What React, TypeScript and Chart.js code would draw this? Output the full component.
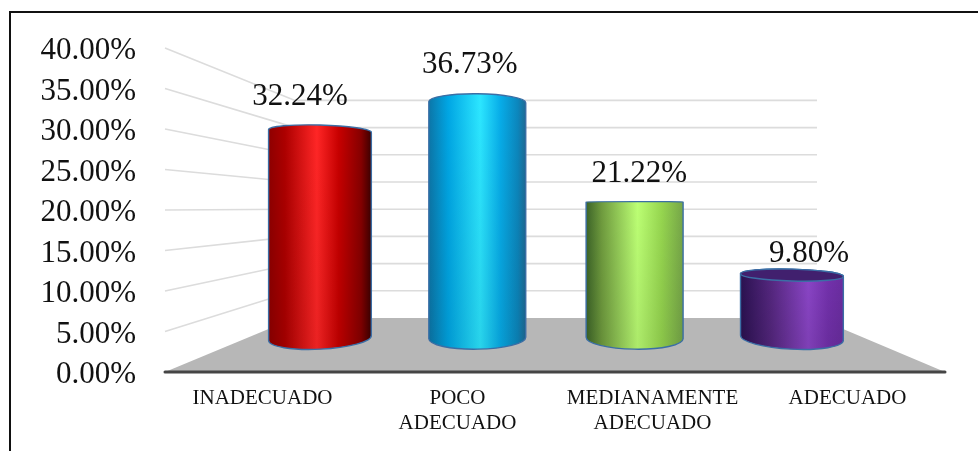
import React, { useEffect, useRef } from "react";
import { Chart, registerables, BarController, BarElement } from "chart.js";

const categories = [
  "INADECUADO",
  ["POCO", "ADECUADO"],
  ["MEDIANAMENTE", "ADECUADO"],
  "ADECUADO",
];
const percentages = [32.24, 36.73, 21.22, 9.8];
const tickValues = [0, 5, 10, 15, 20, 25, 30, 35, 40];

// Horizontal colour bands of each cylinder, as [offset, colour].
const bodyBands: [number, string][][] = [
  [[0, "#8e0000"], [0.16, "#ad0000"], [0.47, "#ff2626"], [0.68, "#c80000"], [0.9, "#860000"], [1, "#3c0000"]],
  [[0, "#0c76a8"], [0.2, "#00a6e4"], [0.53, "#2ce6ff"], [0.74, "#07ace8"], [0.92, "#0c86bc"], [1, "#1f6a94"]],
  [[0, "#3c6428"], [0.16, "#6f9b3e"], [0.53, "#bcff74"], [0.78, "#96d64f"], [1, "#76a648"]],
  [[0, "#2a1150"], [0.3, "#55277f"], [0.66, "#8a45c6"], [0.85, "#7331ac"], [1, "#6a2da0"]],
];
const capColours = ["#8a0000", "#0a88c0", "#6f9b3e", "#41206e"];

const SERIF = '"Liberation Serif", "Times New Roman", serif';
const OUTLINE = "#3b6ea5";
const GRID = "#dcdcdc";
const FLOOR = "#b7b7b7";
const AXIS_LINE = "#454545";

// Eye height and centre of the fake perspective used for the cylinder ends.
const HORIZON_VALUE = 21.0;
const EYE_X = 555;
const ELLIPSE_SQUASH = 0.083;
const ELLIPSE_TILT = 1.57e-6;
const WIDEN_PER_PX = 0.0004;

// Floor inset between the front edge of the plot and the back wall.
const BACK_INSET_LEFT = 130;
const BACK_INSET_RIGHT = 128;

class CylinderElement extends BarElement {
  static id = "cylinder";
  draw(ctx: CanvasRenderingContext2D) {
    const self = this as any;
    const { x, y, base, width } = self.getProps(["x", "y", "base", "width"]);
    const index: number = self.bandIndex;
    const horizon = self.barScale.getPixelForValue(HORIZON_VALUE);
    const offset = x - EYE_X;
    const half = (width / 2) * (1 + Math.abs(offset) * WIDEN_PER_PX);

    const ryAt = (py: number) => Math.abs(py - horizon) * ELLIPSE_SQUASH;
    const tiltAt = (py: number) => offset * (py - horizon) * ELLIPSE_TILT;

    const body = ctx.createLinearGradient(x - half, 0, x + half, 0);
    bodyBands[index].forEach(([at, colour]) => body.addColorStop(at, colour));

    const outline = () => {
      ctx.beginPath();
      ctx.ellipse(x, y, half, ryAt(y), tiltAt(y), Math.PI, Math.PI * 2);
      ctx.ellipse(x, base, half, ryAt(base), tiltAt(base), 0, Math.PI);
      ctx.closePath();
    };

    ctx.save();
    outline();
    ctx.fillStyle = body;
    ctx.fill();

    const shade = ctx.createLinearGradient(0, y, 0, base);
    shade.addColorStop(0, "rgba(0,0,0,0)");
    shade.addColorStop(1, "rgba(0,0,0,0.08)");
    ctx.fillStyle = shade;
    ctx.fill();

    ctx.strokeStyle = OUTLINE;
    ctx.lineWidth = 1.4;
    ctx.stroke();

    // Only cylinders shorter than eye height show their top face.
    if (y > horizon + 1) {
      ctx.beginPath();
      ctx.ellipse(x, y, half, ryAt(y), tiltAt(y), 0, Math.PI * 2);
      ctx.fillStyle = capColours[index];
      ctx.fill();
      ctx.stroke();
    }
    ctx.restore();
  }
}

class CylinderController extends BarController {
  static id = "cylinder";
  static defaults = { dataElementType: "cylinder" };
  static overrides = (BarController as any).overrides;
  draw() {
    const self = this as any;
    self._cachedMeta.data.forEach((element: any, i: number) => {
      element.bandIndex = i;
      element.barScale = self.chart.scales.yBar;
    });
    super.draw();
  }
}

// Floor, receding grid lines and front axis line, painted under the cylinders.
const stagePlugin = {
  id: "stage",
  beforeDatasetsDraw(chart: any) {
    const { ctx, chartArea, scales } = chart;
    const { yFront, yBack } = scales;
    const backLeft = chartArea.left + BACK_INSET_LEFT;
    const backRight = chartArea.right - BACK_INSET_RIGHT;
    ctx.save();

    ctx.strokeStyle = GRID;
    ctx.lineWidth = 1.6;
    tickValues.forEach((value) => {
      if (value === 0) return;
      const backY = yBack.getPixelForValue(value);
      ctx.beginPath();
      ctx.moveTo(chartArea.left, yFront.getPixelForValue(value));
      ctx.lineTo(backLeft, backY);
      ctx.lineTo(backRight, backY);
      ctx.stroke();
    });

    const frontY = yFront.getPixelForValue(0);
    const floorY = yBack.getPixelForValue(0);
    ctx.fillStyle = FLOOR;
    ctx.beginPath();
    ctx.moveTo(chartArea.left, frontY);
    ctx.lineTo(backLeft, floorY);
    ctx.lineTo(backRight, floorY);
    ctx.lineTo(chartArea.right, frontY);
    ctx.closePath();
    ctx.fill();

    ctx.strokeStyle = AXIS_LINE;
    ctx.lineWidth = 3;
    ctx.lineCap = "round";
    ctx.beginPath();
    ctx.moveTo(chartArea.left, frontY);
    ctx.lineTo(chartArea.right, frontY);
    ctx.stroke();
    ctx.restore();
  },
  afterDatasetsDraw(chart: any) {
    const { ctx, scales } = chart;
    ctx.save();
    ctx.font = `31px ${SERIF}`;
    ctx.fillStyle = "#111111";
    ctx.textAlign = "center";
    ctx.textBaseline = "alphabetic";
    percentages.forEach((value, i) => {
      ctx.fillText(
        `${value.toFixed(2)}%`,
        scales.xLabel.getPixelForValue(i),
        scales.yLabel.getPixelForValue(value)
      );
    });
    ctx.restore();
  },
};

Chart.register(...registerables, CylinderController, CylinderElement);

const hiddenLinear = (min: number, max: number) => ({
  type: "linear",
  display: false,
  min,
  max,
  offset: false,
  grid: { display: false },
});

export default function App() {
  const canvasRef = useRef<HTMLCanvasElement>(null);

  useEffect(() => {
    const chart = new Chart(canvasRef.current!, {
      type: "cylinder" as any,
      data: {
        datasets: [
          {
            data: percentages.map((y, x) => ({ x, y })),
            xAxisID: "xBar",
            yAxisID: "yBar",
            barThickness: 94,
          } as any,
        ],
      },
      plugins: [stagePlugin],
      options: {
        animation: false,
        responsive: false,
        events: [],
        layout: { padding: { top: 48, right: 33, left: 0, bottom: 0 } },
        plugins: { legend: { display: false }, tooltip: { enabled: false } },
        scales: {
          x: {
            type: "category",
            labels: categories as any,
            offset: true,
            grid: { display: false },
            border: { display: false },
            ticks: {
              padding: 6,
              maxRotation: 0,
              autoSkip: false,
              color: "#111111",
              font: { family: SERIF, size: 21, lineHeight: 1.19 },
            },
            afterFit: (scale: any) => {
              scale.height = 79;
            },
          },
          // Labelled axis: its range sits slightly above the plane's so the
          // text centres just below each grid line's starting point.
          y: {
            type: "linear",
            position: "left",
            min: 0.37,
            max: 40.37,
            grid: { display: false },
            border: { display: false },
            afterBuildTicks: (scale: any) => {
              scale.ticks = tickValues.map((value) => ({ value }));
            },
            ticks: {
              padding: 21,
              color: "#111111",
              font: { family: SERIF, size: 31 },
              callback: (v: any) => `${Number(v).toFixed(2)}%`,
            },
            afterFit: (scale: any) => {
              scale.width = 165;
            },
          },
          // Hidden scales for the planes from the front of the stage to the back.
          yFront: hiddenLinear(0, 40),
          xBar: hiddenLinear(-0.985, 3.973),
          yBar: hiddenLinear(-5.3, 45.17),
          yBack: hiddenLinear(-9.93, 49.63),
          xLabel: hiddenLinear(-0.7955, 3.801),
          yLabel: hiddenLinear(-5.87, 40.29),
        } as any,
      },
    });
    return () => chart.destroy();
  }, []);

  return (
    <div style={{ position: "absolute", left: 0, top: 0, width: 978, height: 451, background: "#fff", overflow: "hidden" }}>
      <div
        style={{
          position: "absolute",
          left: 9,
          top: 11,
          right: 0,
          bottom: 0,
          borderTop: "2px solid #111",
          borderLeft: "2px solid #111",
        }}
      />
      <canvas ref={canvasRef} width={978} height={451} style={{ position: "absolute", left: 0, top: 0, display: "block" }} />
    </div>
  );
}
